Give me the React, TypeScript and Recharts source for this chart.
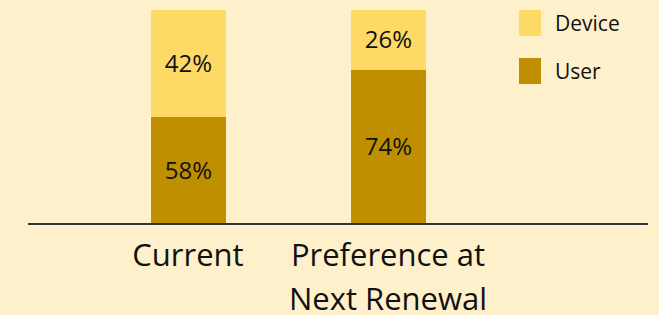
import { BarChart, Bar, XAxis, YAxis, LabelList } from 'recharts'

const categories = ['Current', 'Preference at\nNext Renewal']
const userValues = [50, 72]
const deviceValues = [50, 28]
const userLabels = ['58%', '74%']
const deviceLabels = ['42%', '26%']

const USER = '#BF8F00'
const DEVICE = '#FFD966'
const BG = '#FFF0CC'
const FONT = '"Open Sans", sans-serif'

const data = categories.map((name, i) => ({
  name,
  user: userValues[i],
  device: deviceValues[i],
  userLabel: userLabels[i],
  deviceLabel: deviceLabels[i],
}))

// eslint-disable-next-line @typescript-eslint/no-explicit-any
const CategoryTick = ({ x, y, payload }: any) => {
  const lines = String(payload.value).split('\n')
  return (
    <text x={x} y={y} textAnchor="middle" fill="#111" fontSize={31} fontFamily={FONT}>
      {lines.map((l, i) => (
        <tspan key={i} x={x} dy={i === 0 ? 34 : 44}>{l}</tspan>
      ))}
    </text>
  )
}

const legendItems = [
  { label: 'Device', color: DEVICE },
  { label: 'User', color: USER },
]

const LegendBox = () => (
  <div style={{ position: 'absolute', top: 10, left: 519, fontFamily: FONT, fontSize: 21, color: '#111' }}>
    {legendItems.map((it) => (
      <div key={it.label} style={{ display: 'flex', alignItems: 'center', height: 26, marginBottom: 22 }}>
        <span style={{ width: 22, height: 26, background: it.color, display: 'inline-block', marginRight: 14 }} />
        <span style={{ lineHeight: '26px' }}>{it.label}</span>
      </div>
    ))}
  </div>
)

export default function App() {
  return (
    <div style={{ position: 'absolute', left: 0, top: 0, width: 659, height: 315, background: BG }}>
      <BarChart width={659} height={315} data={data} margin={{ top: 10, right: 11, left: 28, bottom: 0 }} barSize={75}>
        <XAxis
          dataKey="name"
          height={91}
          padding={{ left: 60, right: 160 }}
          axisLine={{ stroke: '#333', strokeWidth: 2 }}
          tickLine={false}
          tick={<CategoryTick />}
          interval={0}
        />
        <YAxis hide domain={[0, 100]} width={0} />
        <Bar dataKey="user" stackId="a" fill={USER} isAnimationActive={false}>
          <LabelList dataKey="userLabel" position="center" fill="#111" fontSize={24} fontFamily={FONT} />
        </Bar>
        <Bar dataKey="device" stackId="a" fill={DEVICE} isAnimationActive={false}>
          <LabelList dataKey="deviceLabel" position="center" fill="#111" fontSize={24} fontFamily={FONT} />
        </Bar>
      </BarChart>
      <LegendBox />
    </div>
  )
}
